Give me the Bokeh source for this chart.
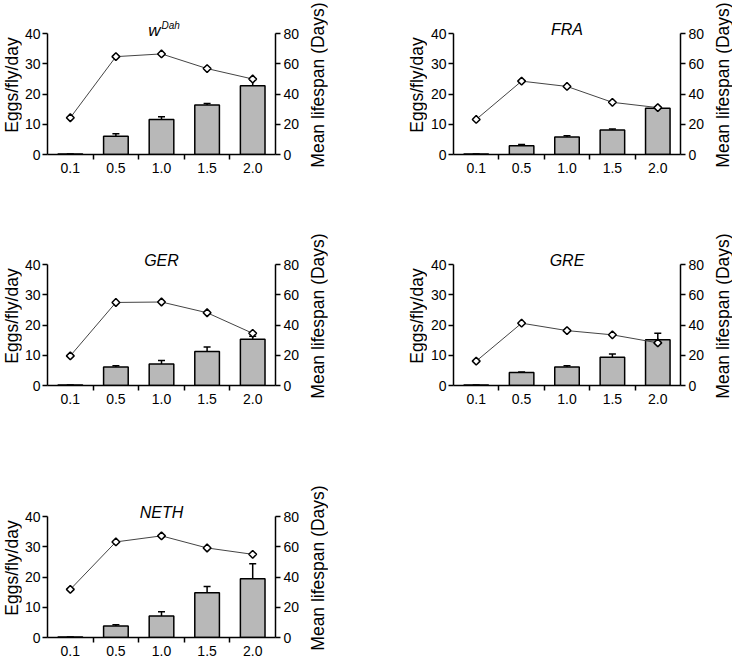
import math
from bokeh.plotting import figure
from bokeh.models import (Range1d, LinearAxis, FixedTicker, ColumnDataSource,
                          Whisker, TeeHead)
from bokeh.core.properties import value
from bokeh.layouts import column, row
from bokeh.embed import file_html
from bokeh.resources import INLINE

# ---- data ----
doses = ["0.1", "0.5", "1.0", "1.5", "2.0"]

titles = ["w", "FRA", "GER", "GRE", "NETH"]
title_sup = ["Dah", "", "", "", ""]

wdah_eggs = [0.2, 6.0, 11.6, 16.4, 22.7]
wdah_err = [0.0, 0.9, 0.9, 0.5, 1.9]
wdah_life = [24.3, 64.7, 66.5, 56.8, 49.9]

fra_eggs = [0.2, 2.9, 5.8, 8.1, 15.3]
fra_err = [0.0, 0.4, 0.4, 0.3, 0.2]
fra_life = [23.2, 48.5, 45.0, 34.5, 31.0]

ger_eggs = [0.2, 6.1, 7.1, 11.2, 15.3]
ger_err = [0.0, 0.4, 1.2, 1.5, 1.0]
ger_life = [19.6, 54.9, 55.2, 48.1, 34.5]

gre_eggs = [0.2, 4.3, 6.1, 9.3, 15.1]
gre_err = [0.0, 0.2, 0.4, 1.1, 2.2]
gre_life = [16.1, 41.2, 36.3, 33.5, 28.2]

neth_eggs = [0.2, 3.8, 7.1, 14.8, 19.4]
neth_err = [0.0, 0.4, 1.4, 2.1, 5.0]
neth_life = [31.8, 63.2, 67.2, 59.2, 55.0]

egg_ticks = [0, 10, 20, 30, 40]
life_ticks = [0, 20, 40, 60, 80]

left_label = "Eggs/fly/day"
right_label = "Mean lifespan (Days)"

FONT = "Liberation Sans"
FRAME_W = 230
AXIS_H = 121                  # pixels between tick 0 and the top tick
HEAD_PX = 18                  # room above the top tick for the panel title
FRAME_H = AXIS_H + HEAD_PX
HEAD = FRAME_H / AXIS_H       # range factor so that the frame holds the title


def style_axis(ax):
    ax.axis_line_width = 1.5
    ax.axis_line_color = "black"
    ax.major_tick_line_width = 1.5
    ax.major_tick_line_color = "black"
    ax.minor_tick_line_color = None
    ax.major_tick_in = 0
    ax.major_tick_out = 5
    ax.major_label_text_font = FONT
    ax.major_label_text_font_size = "14px"
    ax.major_label_text_color = "black"
    ax.major_label_standoff = 2


def panel(idx, eggs, err, life, height, bl, br, bt):
    xs = list(range(len(doses)))
    ytop = egg_ticks[-1]
    ltop = life_ticks[-1]
    width = bl + FRAME_W + br
    p = figure(width=width, height=height, x_range=Range1d(-0.5, len(doses) - 0.5),
               y_range=Range1d(0, ytop * HEAD), output_backend="svg",
               toolbar_location=None, min_border_left=bl, min_border_right=br,
               min_border_top=bt, min_border_bottom=height - bt - FRAME_H)
    p.outline_line_color = None
    p.grid.visible = False
    p.extra_y_ranges = {"life": Range1d(0, ltop * HEAD)}

    hi = [e + d for e, d in zip(eggs, err)]
    src = ColumnDataSource(dict(x=xs, eggs=eggs, hi=hi, life=life))

    p.vbar(x="x", top="eggs", width=0.54, bottom=0, source=src,
           fill_color="#b8b8b8", line_color="black", line_width=1.5)
    p.add_layout(Whisker(source=src, base="x", lower="eggs", upper="hi",
                         line_color="black", line_width=1.5,
                         upper_head=TeeHead(size=7, line_color="black", line_width=1.5),
                         lower_head=None))

    p.line(x="x", y="life", source=src, y_range_name="life",
           line_color="#444444", line_width=1)
    p.scatter(x="x", y="life", source=src, y_range_name="life", marker="square",
              angle=math.pi / 4, size=5.5, fill_color="white", line_color="black",
              line_width=1.5)

    # bottom axis: labels at category centres, tick marks between categories
    xa = p.xaxis[0]
    style_axis(xa)
    xa.ticker = FixedTicker(ticks=xs, minor_ticks=[i + 0.5 for i in xs[:-1]])
    xa.major_label_overrides = {i: d for i, d in enumerate(doses)}
    xa.major_tick_out = 0
    xa.minor_tick_line_color = "black"
    xa.minor_tick_line_width = 1.5
    xa.minor_tick_out = 5
    xa.minor_tick_in = 0
    xa.major_label_standoff = 3

    ya = p.yaxis[0]
    style_axis(ya)
    ya.ticker = FixedTicker(ticks=egg_ticks)
    ya.bounds = (egg_ticks[0], egg_ticks[-1])

    ra = LinearAxis(y_range_name="life", ticker=FixedTicker(ticks=life_ticks))
    style_axis(ra)
    ra.bounds = (life_ticks[0], life_ticks[-1])
    ra.major_label_standoff = 3
    p.add_layout(ra, "right")

    # panel title (inside the extended frame, above the top tick)
    mid = (len(doses) - 1) / 2
    sup = title_sup[idx]
    if sup:
        p.text(x=[mid], y=[ytop], text=[titles[idx]], text_align="right",
               text_baseline="alphabetic", x_offset=-1, y_offset=-3,
               text_font=value(FONT), text_font_size="17px",
               text_font_style="italic", text_color="black")
        p.text(x=[mid], y=[ytop], text=[sup], text_align="left",
               text_baseline="alphabetic", x_offset=0, y_offset=-8,
               text_font=value(FONT), text_font_size="10px",
               text_font_style="italic", text_color="black")
    else:
        p.text(x=[mid], y=[ytop], text=[titles[idx]], text_align="center",
               text_baseline="alphabetic", y_offset=-4,
               text_font=value(FONT), text_font_size="16px",
               text_font_style="italic", text_color="black")
    return p


def strip(label, width, height, bt):
    """Narrow strip whose only content is an axis title reading bottom-to-top.
    Its frame matches the panels' frame so the row stays aligned."""
    s = figure(width=width, height=height, x_range=Range1d(0, 1),
               y_range=Range1d(0, 1), output_backend="svg",
               toolbar_location=None, x_axis_type=None, y_axis_type=None,
               min_border_left=width - 1, min_border_right=0, min_border_top=bt,
               min_border_bottom=height - bt - FRAME_H)
    s.outline_line_color = None
    ax = LinearAxis(ticker=FixedTicker(ticks=[]), axis_label=label)
    ax.axis_line_color = None
    ax.major_tick_line_color = None
    ax.minor_tick_line_color = None
    ax.major_tick_out = 0
    ax.major_tick_in = 0
    ax.major_label_text_font_size = "0px"
    ax.major_label_standoff = 0
    ax.axis_label_standoff = 0
    ax.axis_label_text_font = FONT
    ax.axis_label_text_font_size = "17.5px"
    ax.axis_label_text_font_style = "normal"
    ax.axis_label_text_color = "black"
    s.add_layout(ax, "left")
    return s


H1, H2, H3 = 232, 252, 180
T1, T2, T3 = 15, 14, 14

p1 = panel(0, wdah_eggs, wdah_err, wdah_life, H1, 24, 30, T1)
p2 = panel(1, fra_eggs, fra_err, fra_life, H1, 23, 30, T1)
p3 = panel(2, ger_eggs, ger_err, ger_life, H2, 24, 30, T2)
p4 = panel(3, gre_eggs, gre_err, gre_life, H2, 23, 30, T2)
p5 = panel(4, neth_eggs, neth_err, neth_life, H3, 24, 30, T3)

layout = column(
    row(strip(left_label, 21, H1, T1), p1, strip(right_label, 22, H1, T1),
        strip(left_label, 100, H1, T1), p2, strip(right_label, 22, H1, T1)),
    row(strip(left_label, 21, H2, T2), p3, strip(right_label, 22, H2, T2),
        strip(left_label, 100, H2, T2), p4, strip(right_label, 22, H2, T2)),
    row(strip(left_label, 21, H3, T3), p5, strip(right_label, 22, H3, T3)),
)

open("out.html", "w").write(file_html(layout, INLINE))
